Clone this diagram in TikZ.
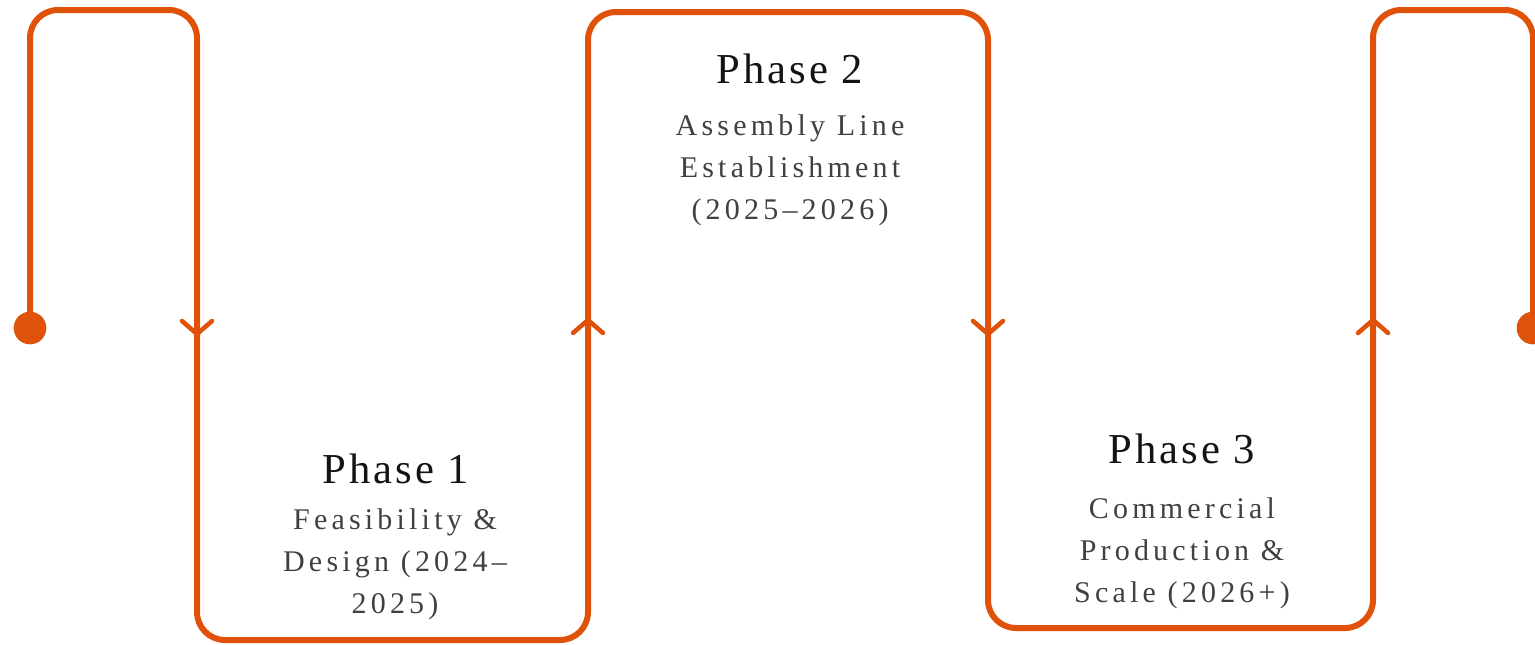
\documentclass[tikz,border=0pt]{standalone}
\usepackage{fontspec}
\setmainfont{Liberation Serif}
\newfontfamily\phasetitlefont[LetterSpace=7]{Liberation Serif}
\newfontfamily\phasesubfont[LetterSpace=14]{Liberation Serif}
\definecolor{trackorange}{HTML}{E0520A}
\definecolor{titleink}{HTML}{141414}
\definecolor{subink}{HTML}{404040}
\tikzset{
  track/.style={draw=trackorange, line width=4.5pt, rounded corners=21pt},
  chevron/.style={draw=trackorange, line width=3.4pt, line cap=round, line join=round},
  enddot/.style={circle, fill=trackorange, minimum size=24.5pt, inner sep=0pt},
  phasetitle/.style={anchor=base, inner sep=0pt, text=titleink,
    font=\phasetitlefont\fontsize{32pt}{36pt}\selectfont},
  % multi-line labels: the base anchor sits on the last line
  phasesub/.style={anchor=base, inner sep=0pt, text=subink, align=center,
    font=\phasesubfont\fontsize{22.5pt}{31.5pt}\selectfont}
}
\begin{document}
\begin{tikzpicture}[x=0.75pt, y=-0.75pt]
  \useasboundingbox (0,0) rectangle (1535,644);

  % serpentine track corners
  \coordinate (c1) at (30,10);
  \coordinate (c2) at (197,10);
  \coordinate (c3) at (197,640);
  \coordinate (c4) at (588,640);
  \coordinate (c5) at (588,12);
  \coordinate (c6) at (988,12);
  \coordinate (c7) at (988,628);
  \coordinate (c8) at (1373,628);
  \coordinate (c9) at (1373,10);
  \coordinate (c10) at (1533,10);

  % start and end markers
  \node[enddot] (start) at (30,328) {};
  \node[enddot] (finish) at (1533,328) {};

  \draw[track] (start.center) -- (c1) -- (c2) -- (c3) -- (c4) -- (c5) -- (c6)
    -- (c7) -- (c8) -- (c9) -- (c10) -- (finish.center);

  % direction chevrons
  \coordinate (a1) at (197,334);
  \coordinate (a2) at (588,320);
  \coordinate (a3) at (988,334);
  \coordinate (a4) at (1373,320);
  \draw[chevron] ([shift={(-15,-13)}]a1) -- (a1) -- ([shift={(15,-13)}]a1);
  \draw[chevron] ([shift={(-15,13)}]a2) -- (a2) -- ([shift={(15,13)}]a2);
  \draw[chevron] ([shift={(-15,-13)}]a3) -- (a3) -- ([shift={(15,-13)}]a3);
  \draw[chevron] ([shift={(-15,13)}]a4) -- (a4) -- ([shift={(15,13)}]a4);

  % phase labels
  \node[phasetitle] (p1) at (396,483) {Phase 1};
  \node[phasesub] (p1s) at (395,613) {Feasibility \&\\Design (2024–\\2025)};

  \node[phasetitle] (p2) at (790,83) {Phase 2};
  \node[phasesub] (p2s) at (790,219) {Assembly Line\\Establishment\\(2025–2026)};

  \node[phasetitle] (p3) at (1182,463) {Phase 3};
  \node[phasesub] (p3s) at (1182,602) {Commercial\\Production \&\\Scale (2026+)};
\end{tikzpicture}
\end{document}
